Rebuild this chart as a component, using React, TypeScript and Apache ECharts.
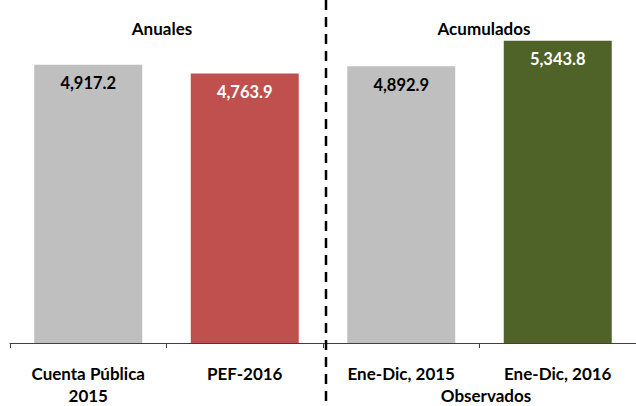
import React, { useEffect, useRef } from "react";
import * as echarts from "echarts";

const categories = ["Cuenta Pública\n2015", "PEF-2016", "Ene-Dic, 2015", "Ene-Dic, 2016"];
const values = [4917.2, 4763.9, 4892.9, 5343.8];
const barColors = ["#BFBFBF", "#C0504D", "#BFBFBF", "#4F6228"];
const labelColors = ["#000000", "#FFFFFF", "#000000", "#FFFFFF"];
const groupLabels = ["Anuales", "Acumulados", "Observados"];

const FONT = "Lato, 'Open Sans', sans-serif";

export default function App() {
  const ref = useRef<HTMLDivElement>(null);
  useEffect(() => {
    document.body.style.margin = "0";
    const chart = echarts.init(ref.current!, null, { renderer: "svg" });
    chart.setOption({
      animation: false,
      backgroundColor: "#FFFFFF",
      textStyle: { fontFamily: FONT },
      grid: { left: 10, top: 3.5, width: 630, height: 342.5, containLabel: false },
      xAxis: {
        type: "category",
        data: categories,
        axisLine: { lineStyle: { color: "#404040", width: 1 } },
        axisTick: { show: true, length: 5, lineStyle: { color: "#404040" } },
        axisLabel: {
          color: "#000",
          fontWeight: "bold",
          fontSize: 17,
          fontFamily: FONT,
          margin: 19,
          lineHeight: 22,
          interval: 0,
        },
      },
      yAxis: { type: "value", min: 0, max: 6000, show: false, splitLine: { show: false } },
      series: [
        {
          type: "bar",
          barCategoryGap: "31%",
          data: values.map((v, i) => ({
            value: v,
            itemStyle: { color: barColors[i] },
            label: { color: labelColors[i] },
          })),
          label: {
            show: true,
            position: "insideTop",
            distance: 10,
            fontWeight: "bold",
            fontSize: 16.5,
            fontFamily: FONT,
            formatter: (p: any) =>
              p.value.toLocaleString("en-US", { minimumFractionDigits: 1, maximumFractionDigits: 1 }),
          },
        },
      ],
      graphic: [
        {
          type: "line",
          shape: { x1: 326, y1: 0, x2: 326, y2: 406 },
          style: { stroke: "#000", lineWidth: 2.5, lineDash: [10, 7] },
          z: 10,
        },
        {
          type: "text",
          x: 162,
          y: 28,
          style: { text: groupLabels[0], fontSize: 17, fontWeight: "bold", fontFamily: FONT, fill: "#000", align: "center", verticalAlign: "middle" },
        },
        {
          type: "text",
          x: 484,
          y: 28,
          style: { text: groupLabels[1], fontSize: 17, fontWeight: "bold", fontFamily: FONT, fill: "#000", align: "center", verticalAlign: "middle" },
        },
        {
          type: "text",
          x: 486,
          y: 395,
          style: { text: groupLabels[2], fontSize: 17, fontWeight: "bold", fontFamily: FONT, fill: "#000", align: "center", verticalAlign: "middle" },
        },
      ],
    });
    return () => chart.dispose();
  }, []);
  return <div ref={ref} style={{ width: 636, height: 406 }} />;
}
